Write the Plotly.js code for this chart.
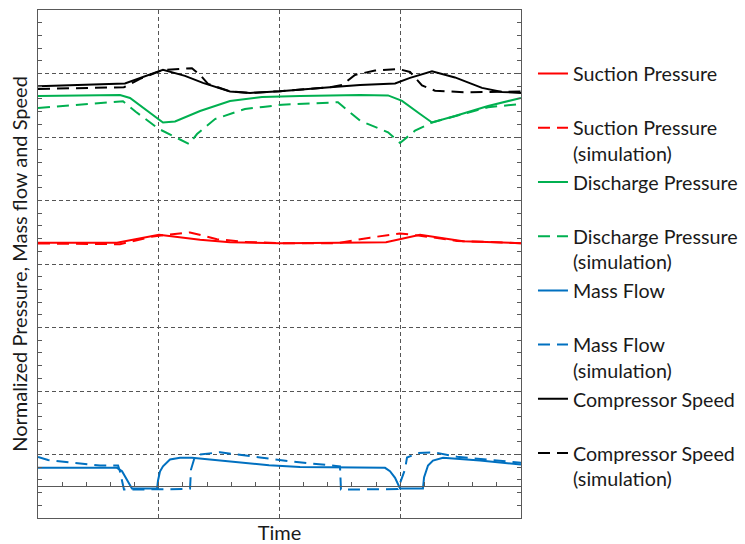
<!DOCTYPE html>
<html>
<head>
<meta charset="utf-8">
<script src="https://cdn.plot.ly/plotly-3.0.1.min.js"></script>
<style>html,body{margin:0;padding:0;background:#fff;}#chart{width:745px;height:544px;}</style>
</head>
<body>
<div id="chart"></div>
<script>
// Time (normalized units, 4 divisions)
const speedX    = [0, 0.72, 1.035, 1.217, 1.366, 1.59, 1.756, 2.004, 2.418, 2.667, 2.957, 3.081, 3.263, 3.453, 3.677, 3.843, 4.0];
const speedY    = [6.30, 6.344, 6.557, 6.462, 6.352, 6.218, 6.194, 6.221, 6.284, 6.32, 6.344, 6.431, 6.533, 6.438, 6.273, 6.21, 6.194];
const speedSimX = [0, 0.712, 0.845, 1.035, 1.275, 1.342, 1.408, 1.59, 1.756, 2.004, 2.418, 2.518, 2.625, 2.791, 2.981, 3.081, 3.18, 3.288, 3.536, 4.0];
const speedSimY = [6.257, 6.284, 6.415, 6.557, 6.584, 6.478, 6.336, 6.218, 6.194, 6.221, 6.284, 6.32, 6.478, 6.546, 6.572, 6.525, 6.312, 6.23, 6.205, 6.215];

const dischX    = [0, 0.679, 0.762, 0.886, 1.035, 1.135, 1.342, 1.59, 1.855, 2.17, 2.667, 2.899, 3.015, 3.164, 3.263, 3.453, 3.727, 4.0];
const dischY    = [6.147, 6.162, 6.115, 5.941, 5.729, 5.744, 5.909, 6.068, 6.131, 6.147, 6.162, 6.155, 6.068, 5.862, 5.729, 5.83, 5.989, 6.115];
const dischSimX = [0, 0.232, 0.704, 0.812, 1.002, 1.251, 1.317, 1.466, 1.714, 1.863, 2.021, 2.484, 2.667, 2.899, 2.998, 3.122, 3.263, 3.727, 4.0];
const dischSimY = [5.957, 5.994, 6.063, 5.893, 5.626, 5.39, 5.547, 5.783, 5.941, 5.973, 6.009, 6.047, 5.757, 5.574, 5.405, 5.599, 5.729, 5.968, 6.021];

const suctX     = [0, 0.654, 1.002, 1.342, 1.59, 2.004, 2.501, 2.882, 3.164, 3.52, 4.0];
const suctY     = [3.836, 3.836, 3.959, 3.883, 3.844, 3.828, 3.836, 3.844, 3.959, 3.86, 3.828];
const suctSimX  = [0, 0.679, 0.952, 1.259, 1.482, 1.698, 2.004, 2.476, 2.75, 2.998, 3.164, 3.47, 4.0];
const suctSimY  = [3.823, 3.812, 3.934, 3.997, 3.891, 3.849, 3.828, 3.828, 3.915, 3.981, 3.946, 3.864, 3.828];

const flowX     = [0, 0.654, 0.696, 0.737, 0.778, 0.986, 0.994, 1.01, 1.035, 1.093, 1.176, 1.275, 1.59, 1.913, 2.17, 2.874, 2.915, 2.957, 2.998, 3.188, 3.197, 3.23, 3.271, 3.354, 3.66, 4.0];
const flowY     = [0.29, 0.29, 0.237, 0.106, -0.036, -0.036, 0.09, 0.232, 0.315, 0.421, 0.448, 0.448, 0.394, 0.331, 0.303, 0.29, 0.237, 0.132, -0.036, -0.036, 0.137, 0.326, 0.405, 0.448, 0.405, 0.342];
const flowSimX  = [0, 0.083, 0.513, 0.663, 0.679, 0.712, 1.234, 1.259, 1.267, 1.292, 1.342, 1.507, 1.839, 2.087, 2.468, 2.501, 2.509, 2.981, 3.039, 3.056, 3.147, 3.288, 3.47, 4.0];
const flowSimY  = [0.461, 0.413, 0.326, 0.326, 0.232, -0.052, -0.044, -0.036, 0.263, 0.421, 0.5, 0.536, 0.453, 0.394, 0.319, 0.311, -0.052, -0.044, 0.263, 0.453, 0.524, 0.532, 0.464, 0.369];

const seriesNames = [
  'Suction Pressure<br>\u00a0', 'Suction Pressure<br>(simulation)',
  'Discharge Pressure<br>\u00a0', 'Discharge Pressure<br>(simulation)',
  'Mass Flow<br>\u00a0', 'Mass Flow<br>(simulation)',
  'Compressor Speed<br>\u00a0', 'Compressor Speed<br>(simulation)'
];

const RED = '#ff0000', GREEN = '#00b050', BLUE = '#0070c0', BLACK = '#000000';
const DASH = '12px,7px';
function tr(x, y, name, color, dash, grp) {
  return {x: x, y: y, name: name, type: 'scatter', mode: 'lines', legendgroup: grp,
          line: {color: color, width: 2, dash: dash}, hoverinfo: 'skip'};
}
const traces = [
  tr(suctX, suctY, seriesNames[0], RED, 'solid', 'g1'),
  tr(suctSimX, suctSimY, seriesNames[1], RED, DASH, 'g2'),
  tr(dischX, dischY, seriesNames[2], GREEN, 'solid', 'g3'),
  tr(dischSimX, dischSimY, seriesNames[3], GREEN, DASH, 'g4'),
  tr(flowX, flowY, seriesNames[4], BLUE, 'solid', 'g5'),
  tr(flowSimX, flowSimY, seriesNames[5], BLUE, DASH, 'g6'),
  tr(speedX, speedY, seriesNames[6], BLACK, 'solid', 'g7'),
  tr(speedSimX, speedSimY, seriesNames[7], BLACK, DASH, 'g8'),
  {x: [], y: [], xaxis: 'x2', yaxis: 'y', type: 'scatter', mode: 'lines', showlegend: false, hoverinfo: 'skip'}
];

const AX = '#595959';
const layout = {
  width: 745, height: 544,
  margin: {l: 38, r: 224, t: 10, b: 26, autoexpand: false},
  paper_bgcolor: '#ffffff', plot_bgcolor: '#ffffff',
  font: {family: 'Lato, "Noto Sans", sans-serif', color: '#1a1a1a', size: 20},
  showlegend: true,
  xaxis: {
    range: [0, 4], tick0: 0, dtick: 1, showgrid: true, gridcolor: '#555555', gridwidth: 1, griddash: '4px,3px',
    showline: true, mirror: true, linecolor: AX, linewidth: 1, ticks: '', showticklabels: false, zeroline: false,
    title: {text: 'Time', font: {size: 20, color: '#1a1a1a'}, standoff: 8}
  },
  xaxis2: {
    overlaying: 'x', anchor: 'free', position: 0.0625, side: 'bottom', range: [0, 4],
    showline: true, linecolor: AX, linewidth: 1, showgrid: false, zeroline: false, showticklabels: false,
    tick0: 0, dtick: 1, ticks: 'inside', ticklen: 4, tickcolor: AX,
    minor: {tick0: 0, dtick: 0.2, ticks: 'inside', ticklen: 4, tickcolor: AX, showgrid: false}
  },
  yaxis: {
    range: [-0.5, 7.5], tick0: 0.5, dtick: 1, showgrid: true, gridcolor: '#555555', gridwidth: 1, griddash: '4px,3px',
    showline: true, mirror: 'ticks', linecolor: AX, linewidth: 1, ticks: 'inside', ticklen: 4, tickcolor: AX,
    minor: {tick0: 0.5, dtick: 0.2, ticks: 'inside', ticklen: 4, tickcolor: AX, showgrid: false},
    showticklabels: false, zeroline: false,
    title: {text: 'Normalized Pressure, Mass flow and Speed', font: {size: 20, color: '#1a1a1a'}, standoff: 4}
  },
  legend: {
    x: 1.0248, xanchor: 'left', y: 0.913, yanchor: 'top',
    traceorder: 'grouped', tracegroupgap: 0, valign: 'top',
    bgcolor: 'rgba(0,0,0,0)', borderwidth: 0, font: {size: 19.7, color: '#1a1a1a'}
  }
};

Plotly.newPlot('chart', traces, layout, {displayModeBar: false, staticPlot: true});
</script>
</body>
</html>
